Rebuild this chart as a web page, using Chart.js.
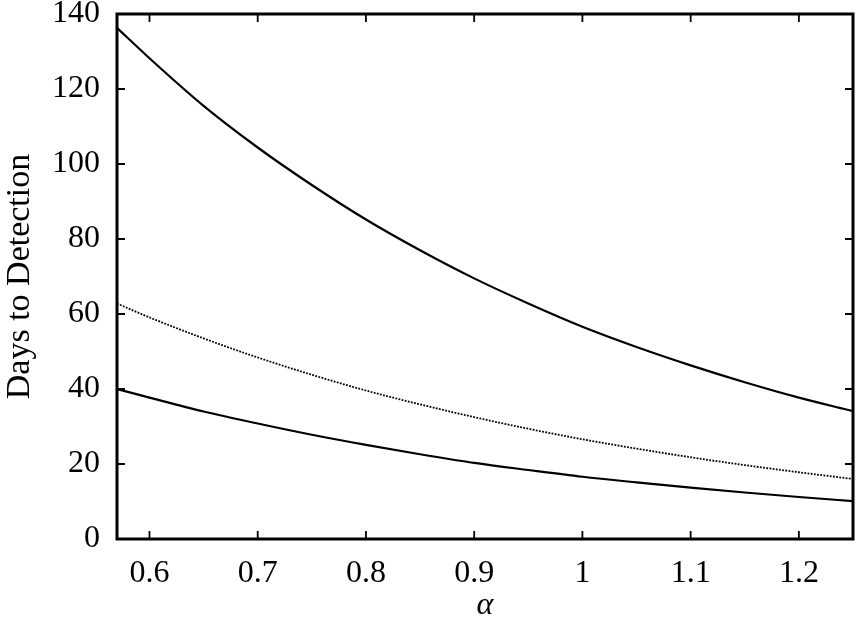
<!DOCTYPE html>
<html>
<head>
<meta charset="utf-8">
<script src="https://cdn.jsdelivr.net/npm/chart.js@4/dist/chart.umd.min.js"></script>
<style>
  html, body { margin: 0; padding: 0; background: #fff; }
  canvas { display: block; }
</style>
</head>
<body>
<canvas id="daysChart" width="860" height="625"></canvas>
<script>
"use strict";

// значения alpha по оси X
const alphaValues = [0.57, 0.6, 0.65, 0.7, 0.75, 0.8, 0.85, 0.9, 0.95, 1.0, 1.05, 1.1, 1.15, 1.2, 1.25];

// верхняя сплошная кривая
const upperDays = [136.3, 128.2, 115.5, 104.4, 94.4, 85.2, 77.0, 69.5, 62.8, 56.6, 51.2, 46.3, 41.8, 37.7, 34.1];
// пунктирная кривая
const middleDays = [62.8, 59.1, 53.5, 48.4, 43.8, 39.6, 35.9, 32.5, 29.4, 26.6, 24.1, 21.8, 19.7, 17.8, 16.0];
// нижняя сплошная кривая
const lowerDays = [40.0, 37.7, 34.0, 30.8, 27.8, 25.1, 22.6, 20.3, 18.4, 16.6, 15.1, 13.7, 12.4, 11.2, 10.1];

// подписи делений
const yTicks = [0, 20, 40, 60, 80, 100, 120, 140];
const xTicks = [0.6, 0.7, 0.8, 0.9, 1, 1.1, 1.2];

const serif = "'Liberation Serif', 'Times New Roman', serif";

function toPoints(values) {
  return alphaValues.map((a, i) => ({ x: a, y: values[i] }));
}

// рамка и внутренние засечки как в gnuplot
const framePlugin = {
  id: "frame",
  afterDraw(chart) {
    const { ctx, chartArea: area, scales } = chart;
    const len = 8;
    ctx.save();
    ctx.strokeStyle = "#000";
    ctx.lineWidth = 1.8;
    ctx.beginPath();
    xTicks.forEach((v) => {
      const px = scales.x.getPixelForValue(v);
      ctx.moveTo(px, area.bottom);
      ctx.lineTo(px, area.bottom - len);
      ctx.moveTo(px, area.top);
      ctx.lineTo(px, area.top + len);
    });
    yTicks.forEach((v) => {
      const py = scales.y.getPixelForValue(v);
      ctx.moveTo(area.left, py);
      ctx.lineTo(area.left + len, py);
      ctx.moveTo(area.right, py);
      ctx.lineTo(area.right - len, py);
    });
    ctx.stroke();
    ctx.lineWidth = 3;
    ctx.strokeRect(area.left, area.top, area.right - area.left, area.bottom - area.top);
    ctx.restore();
  },
};

const ctx = document.getElementById("daysChart");
new Chart(ctx, {
  type: "line",
  data: {
    datasets: [
      {
        label: "upper",
        data: toPoints(upperDays),
        borderColor: "#000",
        borderWidth: 2.2,
      },
      {
        label: "middle",
        data: toPoints(middleDays),
        borderColor: "#000",
        borderWidth: 1.8,
        borderDash: [1.8, 1.4],
      },
      {
        label: "lower",
        data: toPoints(lowerDays),
        borderColor: "#000",
        borderWidth: 2.2,
      },
    ],
  },
  options: {
    responsive: false,
    animation: false,
    layout: { padding: { top: 14, right: 7, left: 0, bottom: 0 } },
    elements: {
      point: { radius: 0 },
      line: { cubicInterpolationMode: "monotone", fill: false },
    },
    plugins: {
      legend: { display: false },
      tooltip: { enabled: false },
    },
    scales: {
      x: {
        type: "linear",
        min: 0.57,
        max: 1.25,
        grid: { display: false },
        border: { display: false },
        afterFit: (scale) => {
          scale.height = 86;
          scale.paddingLeft = 0;
          scale.paddingRight = 0;
        },
        afterBuildTicks: (scale) => {
          scale.ticks = xTicks.map((v) => ({ value: v }));
        },
        ticks: {
          color: "#000",
          padding: 7,
          maxRotation: 0,
          autoSkip: false,
          font: { family: serif, size: 32 },
          callback: (v) => String(+Number(v).toFixed(2)),
        },
        title: {
          display: true,
          text: "α",
          color: "#000",
          padding: { top: 0, bottom: 3 },
          font: { family: serif, size: 32, style: "italic", lineHeight: 1 },
        },
      },
      y: {
        min: 0,
        max: 140,
        grid: { display: false },
        border: { display: false },
        afterFit: (scale) => {
          scale.width = 117;
          scale.paddingTop = 0;
          scale.paddingBottom = 0;
        },
        afterBuildTicks: (scale) => {
          scale.ticks = yTicks.map((v) => ({ value: v }));
        },
        ticks: {
          color: "#000",
          padding: 9,
          autoSkip: false,
          font: { family: serif, size: 32 },
        },
        title: {
          display: true,
          text: "Days to Detection",
          color: "#000",
          padding: { top: 0, bottom: 0 },
          font: { family: serif, size: 34, lineHeight: 1.2 },
        },
      },
    },
  },
  plugins: [framePlugin],
});
</script>
</body>
</html>
